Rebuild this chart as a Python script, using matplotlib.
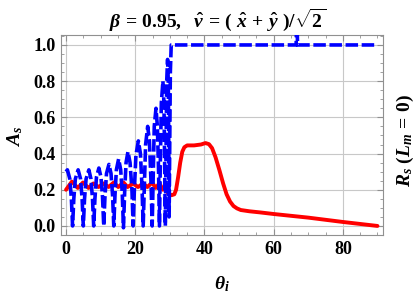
import matplotlib
matplotlib.use("Agg")
import matplotlib.pyplot as plt
from matplotlib.ticker import MultipleLocator

plt.rcParams['mathtext.fontset'] = 'custom'
plt.rcParams['mathtext.rm'] = 'Liberation Serif:bold'
plt.rcParams['mathtext.it'] = 'Liberation Serif:italic:bold'
plt.rcParams['mathtext.bf'] = 'Liberation Serif:bold'
plt.rcParams['font.family'] = ['Liberation Serif', 'DejaVu Serif']
plt.rcParams['font.weight'] = 'bold'
plt.rcParams['lines.scale_dashes'] = False

# ---- data ----
blue_theta = [0.0, 0.4, 1.1, 1.55, 1.9, 2.25, 2.7, 3.5, 4.2, 4.65, 5.0, 5.35,
              5.8, 6.6, 7.2, 7.65, 8.0, 8.35, 8.8, 9.5, 10.1, 10.55, 10.9,
              11.25, 11.7, 12.4, 13.0, 13.45, 13.8, 14.15, 14.55, 15.2, 15.8,
              16.25, 16.6, 16.95, 17.35, 17.9, 18.5, 19.05, 19.4, 19.75, 20.2,
              20.9, 21.5, 21.95, 22.3, 22.65, 23.0, 23.6, 24.1, 24.55, 24.9,
              25.2, 25.5, 26.0, 26.4, 26.75, 27.0, 27.25, 27.55, 28.0, 28.3,
              28.5, 28.7, 28.9, 29.1, 29.35, 29.55, 29.7, 29.8, 29.95, 30.15,
              30.4, 31.0, 66.5, 66.7, 66.9, 90.0]
blue_vals = [0.30, 0.31, 0.26, 0.15, 0.0, 0.15, 0.26, 0.31, 0.26, 0.15, 0.0,
             0.15, 0.26, 0.31, 0.26, 0.15, 0.0, 0.15, 0.27, 0.32, 0.27, 0.16,
             0.0, 0.16, 0.29, 0.34, 0.29, 0.17, 0.0, 0.17, 0.31, 0.37, 0.31,
             0.18, -0.01, 0.19, 0.35, 0.41, 0.35, 0.20, 0.0, 0.20, 0.39, 0.47,
             0.40, 0.22, 0.0, 0.23, 0.45, 0.55, 0.47, 0.25, 0.0, 0.28, 0.55,
             0.65, 0.55, 0.30, 0.0, 0.35, 0.68, 0.80, 0.68, 0.35, 0.0, 0.40,
             0.80, 0.92, 0.80, 0.40, 0.05, 0.40, 0.85, 1.0, 1.0, 1.0, 1.2, 1.0,
             1.0]

red_theta = [0.0, 1.7, 3.4, 4.9, 6.5, 7.9, 9.4, 10.9, 12.3, 13.8, 15.1, 16.6,
             17.8, 19.4, 20.8, 22.3, 23.5, 24.9, 25.9, 27.0, 28.0, 28.7, 29.5,
             30.5, 31.3, 31.8, 32.4, 33.0, 33.6, 34.2, 35.0, 37.0, 39.0, 40.3,
             41.3, 42.2, 43.2, 44.3, 45.4, 46.4, 47.4, 48.4, 49.4, 50.5, 53.0,
             56.0, 60.0, 65.0, 70.0, 75.0, 80.0, 85.0, 90.0]
red_vals = [0.20, 0.245, 0.21, 0.24, 0.21, 0.235, 0.215, 0.235, 0.215, 0.24,
            0.215, 0.24, 0.215, 0.235, 0.215, 0.235, 0.215, 0.24, 0.21, 0.235,
            0.20, 0.22, 0.18, 0.17, 0.175, 0.20, 0.27, 0.35, 0.41, 0.435, 0.445,
            0.445, 0.45, 0.458, 0.452, 0.43, 0.38, 0.31, 0.235, 0.175, 0.135,
            0.11, 0.097, 0.088, 0.081, 0.075, 0.066, 0.056, 0.046, 0.034,
            0.022, 0.011, 0.0]

x_ticks = [0, 20, 40, 60, 80]
y_ticks = [0.0, 0.2, 0.4, 0.6, 0.8, 1.0]

fig = plt.figure(figsize=(4.15, 2.94), dpi=100)
ax = fig.add_axes([61/415, 1-235/294, (383-61)/415, (235-35)/294])

ax.plot(red_theta, red_vals, color='#ff0000', lw=2.8, solid_capstyle='round',
        solid_joinstyle='round', zorder=3)
ax.plot(blue_theta, blue_vals, color='#0000ff', lw=2.6, dashes=(9.0, 2.6),
        dash_capstyle='butt', dash_joinstyle='round', zorder=4)

ax.set_xlim(-1.45, 91.6)
ax.set_ylim(-0.05, 1.055)
ax.set_xticks(x_ticks)
ax.set_yticks(y_ticks)
ax.set_xticklabels([str(v) for v in x_ticks])
ax.set_yticklabels([f"{v:.1f}" for v in y_ticks])
ax.xaxis.set_minor_locator(MultipleLocator(5))
ax.yaxis.set_minor_locator(MultipleLocator(0.05))
ax.grid(True, which='major', color='#c8c8c8', lw=0.8)
ax.set_axisbelow(True)
for s in ax.spines.values():
    s.set_color('#909090')
    s.set_linewidth(0.8)
ax.tick_params(which='both', direction='in', top=True, right=True,
               color='#909090', labelsize=13)
ax.tick_params(which='major', length=4.5, width=0.8, pad=4)
ax.tick_params(which='minor', length=2.5, width=0.6)
for lab in ax.get_xticklabels() + ax.get_yticklabels():
    lab.set_fontweight('bold')

fig.text(218/415, 1-20/294,
         r'$\beta\, =\, \mathbf{0.95},\ \ \hat{v}\, =\, \mathbf{(}\ \hat{x}\, +\, \hat{y}\ \mathbf{)}/\sqrt{\mathbf{2}}$',
         ha='center', va='center', fontsize=14)
fig.text(222/415, 1-284/294, r'$\theta_i$', ha='center', va='center', fontsize=14)
fig.text(15/415, 1-137/294, r'$A_s$', ha='center', va='center', fontsize=14,
         rotation=90)
fig.text(405/415, 1-140/294, r'$R_s\ \mathbf{(}L_m\, =\, \mathbf{0)}$', ha='center',
         va='center', fontsize=14, rotation=90)

fig.savefig('out.png', dpi=100)
